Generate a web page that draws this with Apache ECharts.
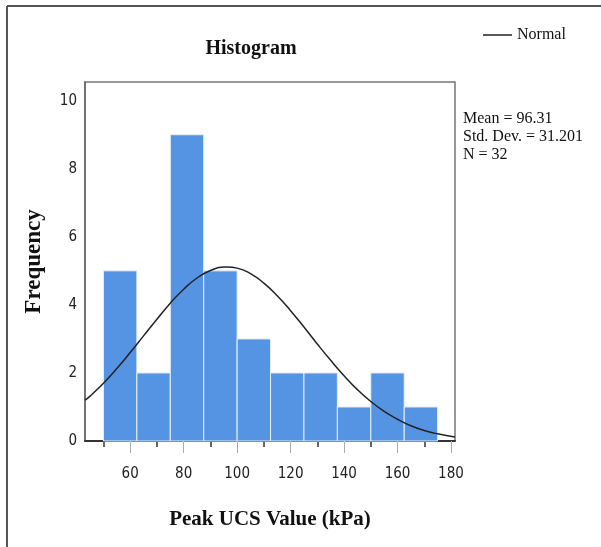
<!DOCTYPE html>
<html>
<head>
<meta charset="utf-8">
<script src="https://cdn.jsdelivr.net/npm/echarts@6/dist/echarts.min.js"></script>
<style>html,body{margin:0;padding:0;background:#fff;}#c{width:601px;height:547px;}</style>
</head>
<body>
<div id="c"></div>
<script>
// Histogram bins (kPa) and frequencies
const binStart = [50, 62.5, 75, 87.5, 100, 112.5, 125, 137.5, 150, 162.5];
const binEnd   = [62.5, 75, 87.5, 100, 112.5, 125, 137.5, 150, 162.5, 175];
const counts   = [5, 2, 9, 5, 3, 2, 2, 1, 2, 1];
// Normal curve
const curveX = [43.1, 45, 50, 55, 60, 65, 70, 75, 80, 85, 90, 95, 96.3, 100, 105, 110, 115, 120, 125, 130, 135, 140, 145, 150, 155, 160, 165, 170, 175, 181.5];
const curveY = [1.20, 1.32, 1.70, 2.13, 2.60, 3.09, 3.58, 4.05, 4.46, 4.79, 5.01, 5.11, 5.11, 5.08, 4.92, 4.64, 4.27, 3.83, 3.35, 2.85, 2.37, 1.92, 1.51, 1.16, 0.87, 0.64, 0.45, 0.31, 0.21, 0.12];
// Tick values
const xLabelTicks = [60, 80, 100, 120, 140, 160, 180];
const xMinorTicks = [50, 70, 90, 110, 130, 150, 170];
const yTicks = [0, 2, 4, 6, 8, 10];
const statsLines = ['Mean = 96.31', 'Std. Dev. = 31.201', 'N = 32'];

const serif = '"Liberation Serif","Times New Roman",serif';
const narrow = '"DejaVu Sans Condensed","Liberation Sans",sans-serif';

const chart = echarts.init(document.getElementById('c'), null, {renderer: 'canvas'});
const barData = counts.map((c, i) => [binStart[i], binEnd[i], c]);
const lineData = curveX.map((x, i) => [x, curveY[i]]);

chart.setOption({
  backgroundColor: '#fff',
  animation: false,
  title: {
    text: 'Histogram', left: 246, top: 34, textAlign: 'center',
    textStyle: {fontFamily: serif, fontSize: 20, fontWeight: 'bold', color: '#111'}
  },
  legend: {
    data: [{name: 'Normal', icon: 'rect'}], left: 478, top: 22, itemWidth: 29, itemHeight: 1.5, itemGap: 4,
    textStyle: {fontFamily: serif, fontSize: 16, color: '#111'}
  },
  grid: {left: 85, right: 146, top: 82, bottom: 106, show: true, borderColor: '#777', borderWidth: 1.5, backgroundColor: '#fff'},
  xAxis: [{
    type: 'value', min: 43.1, max: 181.5,
    name: 'Peak UCS Value (kPa)', nameLocation: 'middle', nameGap: 68,
    nameTextStyle: {fontFamily: serif, fontSize: 21, fontWeight: 'bold', color: '#111'},
    axisLine: {show: true, lineStyle: {color: '#333', width: 2}},
    axisTick: {show: true, customValues: xLabelTicks, length: 12, lineStyle: {color: '#aaa', width: 1}},
    axisLabel: {customValues: xLabelTicks, margin: 26, fontFamily: narrow, fontSize: 15, color: '#222'},
    splitLine: {show: false}
  }, {
    type: 'value', min: 43.1, max: 181.5, position: 'bottom',
    axisLine: {show: false},
    axisTick: {show: true, customValues: xMinorTicks, length: 6, lineStyle: {color: '#333', width: 1.5}},
    axisLabel: {show: false},
    splitLine: {show: false}
  }],
  yAxis: {
    type: 'value', min: 0, max: 10.55,
    name: 'Frequency', nameLocation: 'middle', nameGap: 39, nameRotate: 90,
    nameTextStyle: {fontFamily: serif, fontSize: 23, fontWeight: 'bold', color: '#111'},
    axisLine: {show: true, lineStyle: {color: '#666', width: 1.5}},
    axisTick: {show: false},
    axisLabel: {customValues: yTicks, margin: 8, fontFamily: narrow, fontSize: 15, color: '#222'},
    splitLine: {show: false}
  },
  graphic: [
    {type: 'line', shape: {x1: 7, y1: 6, x2: 601, y2: 6}, style: {stroke: '#555', lineWidth: 2}, silent: true},
    {type: 'line', shape: {x1: 7, y1: 6, x2: 7, y2: 547}, style: {stroke: '#555', lineWidth: 2}, silent: true},
    {type: 'text', left: 463, top: 110, style: {text: statsLines.join('\n'), fontFamily: serif, fontSize: 16, lineHeight: 18, fill: '#111'}, silent: true}
  ],
  series: [{
    type: 'custom', name: 'Histogram',
    xAxisIndex: 0, yAxisIndex: 0,
    data: barData,
    encode: {x: [0, 1], y: 2},
    renderItem: function (params, api) {
      const p0 = api.coord([api.value(0), api.value(2)]);
      const p1 = api.coord([api.value(1), 0]);
      return {
        type: 'rect',
        shape: {x: p0[0], y: p0[1], width: p1[0] - p0[0], height: p1[1] - p0[1]},
        style: {fill: '#5594e3', stroke: '#e6effa', lineWidth: 1}
      };
    },
    z: 2
  }, {
    type: 'line', name: 'Normal', data: lineData, smooth: true, symbol: 'none',
    lineStyle: {color: '#222', width: 1.5}, itemStyle: {color: '#222'}, z: 3
  }]
});
</script>
</body>
</html>
